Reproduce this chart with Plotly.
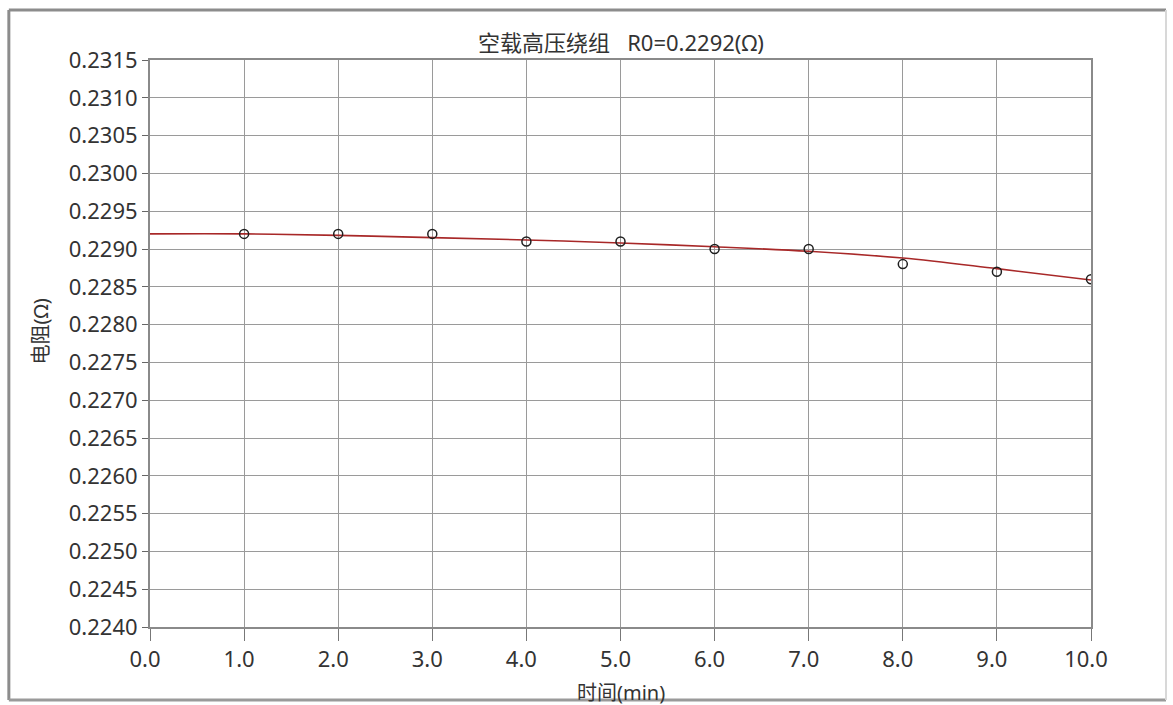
import plotly.graph_objects as go

# Measured resistance at each minute
time_min = [1.0, 2.0, 3.0, 4.0, 5.0, 6.0, 7.0, 8.0, 9.0, 10.0]
resistance = [0.2292, 0.2292, 0.2292, 0.2291, 0.2291, 0.2290, 0.2290, 0.2288, 0.2287, 0.2286]

# Fitted trend curve
fit_time = [0.0, 1.0, 2.0, 3.0, 4.0, 5.0, 6.0, 7.0, 8.0, 9.0, 10.0]
fit_resistance = [0.22920, 0.22920, 0.22918, 0.22915, 0.22912, 0.22908,
                  0.22903, 0.22897, 0.22888, 0.22874, 0.22859]

x_ticks = [0, 1, 2, 3, 4, 5, 6, 7, 8, 9, 10]
x_tick_labels = ["0.0", "1.0", "2.0", "3.0", "4.0", "5.0", "6.0", "7.0", "8.0", "9.0", "10.0"]
y_ticks = [0.2240 + 0.0005 * i for i in range(16)]
y_tick_labels = [f"{v:.4f}" for v in y_ticks]

title_text = "空载高压绕组   R0=0.2292(Ω)"
x_title = "时间(min)"
y_title = "电阻(Ω)"

FONT = "Noto Sans, Noto Sans CJK SC, sans-serif"
TEXT = "#333333"
FS = 22

fig = go.Figure()
fig.add_trace(go.Scatter(
    x=fit_time, y=fit_resistance, mode="lines",
    line=dict(color="#a82828", width=1.6, shape="spline"),
    hoverinfo="skip", showlegend=False,
))
fig.add_trace(go.Scatter(
    x=time_min, y=resistance, mode="markers",
    marker=dict(symbol="circle-open", size=9, color="#1e1e1e", line=dict(width=1.5)),
    showlegend=False,
))

fig.update_layout(
    width=1173, height=705,
    margin=dict(l=150, r=82, t=60, b=78),
    paper_bgcolor="white", plot_bgcolor="white",
    font=dict(family=FONT, size=FS, color=TEXT),
    showlegend=False,
    xaxis=dict(
        range=[0, 10], tickvals=x_ticks, ticktext=x_tick_labels,
        showgrid=True, gridcolor="#9a9a9a", gridwidth=1,
        showline=True, linecolor="#8a8a8a", linewidth=2, mirror=True,
        ticks="outside", ticklen=12, tickcolor="#777777", tickwidth=1,
        ticklabelshift=-5,
        tickfont=dict(size=FS, color=TEXT), zeroline=False,
    ),
    yaxis=dict(
        range=[0.2240, 0.2315], tickvals=y_ticks, ticktext=y_tick_labels,
        showgrid=True, gridcolor="#9a9a9a", gridwidth=1,
        showline=True, linecolor="#8a8a8a", linewidth=2, mirror=True,
        ticks="outside", ticklen=6, tickcolor="#666666", tickwidth=1,
        tickfont=dict(size=FS, color=TEXT), zeroline=False,
    ),
    annotations=[
        dict(text=title_text, x=0.5, y=1.0, xref="paper", yref="paper",
             xanchor="center", yanchor="bottom", yshift=1, showarrow=False,
             font=dict(size=FS, color=TEXT)),
        dict(text=x_title, x=0.5, y=0, xref="paper", yref="paper",
             xanchor="center", yanchor="top", yshift=-50, showarrow=False,
             font=dict(size=FS - 2, color=TEXT)),
        dict(text=y_title, x=0, y=0.5, xref="paper", yref="paper",
             xanchor="center", yanchor="middle", xshift=-110, yshift=12,
             textangle=-90, showarrow=False, font=dict(size=FS - 2, color=TEXT)),
    ],
    shapes=[
        # window frame around the whole chart
        dict(type="line", xref="paper", yref="paper", x0=-0.15, x1=1.0797,
             y0=1.088, y1=1.088, line=dict(color="#8c8c8c", width=3)),
        dict(type="line", xref="paper", yref="paper", x0=-0.15, x1=-0.15,
             y0=1.088, y1=-0.1287, line=dict(color="#8c8c8c", width=3)),
        dict(type="line", xref="paper", yref="paper", x0=-0.15, x1=1.0797,
             y0=-0.1287, y1=-0.1287, line=dict(color="#9a9a9a", width=3)),
        dict(type="line", xref="paper", yref="paper", x0=1.0797, x1=1.0797,
             y0=1.088, y1=-0.1287, line=dict(color="#d8d8d8", width=2)),
    ],
)

fig.write_html("out.html")
